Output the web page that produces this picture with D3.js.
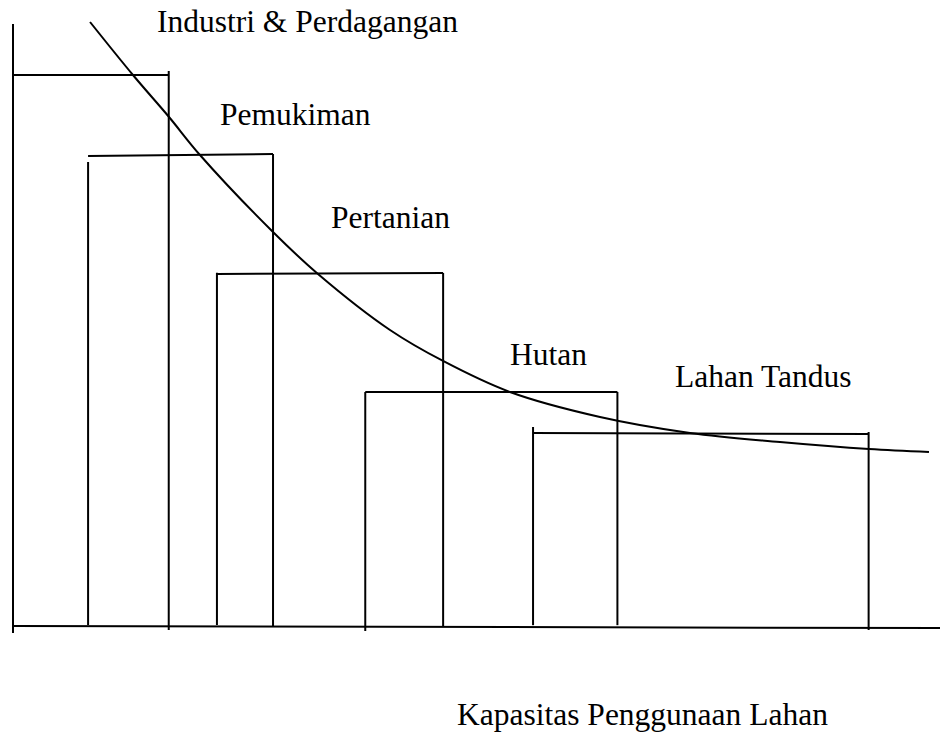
<!DOCTYPE html>
<html>
<head>
<meta charset="utf-8">
<script src="https://cdn.jsdelivr.net/npm/d3@7"></script>
<style>
  html, body { margin: 0; padding: 0; background: #fff; }
  svg text { font-family: "Liberation Serif", "Times New Roman", serif; fill: #000; }
</style>
</head>
<body>
<svg id="chart" width="942" height="732"></svg>
<script>
// land uses, ordered from highest to lowest land rent
const landUses = ['Industri & Perdagangan', 'Pemukiman', 'Pertanian', 'Hutan', 'Lahan Tandus'];
// horizontal extent of each block (distance from centre, 0..100)
const blockStart = [0, 8.1, 22.0, 38.0, 56.1];
const blockEnd = [16.8, 28.05, 46.4, 65.2, 92.3];
// rent level at the left / right end of each block's top edge (0..100)
const rentLeft = [91.24, 77.85, 58.35, 38.84, 32.07];
const rentRight = [91.24, 78.18, 58.51, 38.84, 31.9];
// where the hand drawn sides start and stop
const sideTopL = [91.24, 76.86, 58.56, 38.84, 33.06];
const sideTopR = [91.9, 78.18, 58.51, 38.84, 32.23];
const sideBottomL = [0, 0.33, 0.33, -0.66, 0.3];
const sideBottomR = [-0.5, 0.17, 0, 0.3, -0.5];

// bid rent curve
const curveX = [8.31, 12.94, 16.83, 20.17, 28.05, 32.9, 40.67, 46.39, 53.61, 63.32, 73.03, 82.74, 92.34, 98.81];
const curveY = [100, 91.24, 84.3, 78.02, 65.29, 58.35, 49.09, 43.97, 38.84, 34.71, 32.07, 30.58, 29.42, 28.93];

const xTitle = 'Kapasitas Penggunaan Lahan';

const svg = d3.select('#chart');
const x = d3.scaleLinear().domain([0, 100]).range([13, 940]);
const y = d3.scaleLinear().domain([0, 100]).range([627, 22]);

const stroke = '#000';
const sw = 2;

// label anchor points, in chart units
const labelPos = [[15.53, 98.35], [22.33, 82.98], [34.3, 65.95], [53.61, 43.31], [71.41, 39.67]];

// axes
svg.append('line')
  .attr('x1', x(0)).attr('x2', x(0))
  .attr('y1', y(99.67)).attr('y2', y(-1))
  .attr('stroke', stroke).attr('stroke-width', sw);
svg.append('line')
  .attr('x1', x(0)).attr('x2', x(100))
  .attr('y1', y(0.17)).attr('y2', y(-0.17))
  .attr('stroke', stroke).attr('stroke-width', sw);

// open blocks
const blocks = svg.append('g').attr('class', 'blocks')
  .attr('stroke', stroke).attr('stroke-width', sw).attr('fill', 'none');

landUses.forEach((name, i) => {
  const g = blocks.append('g').attr('class', 'block');
  g.append('line')
    .attr('x1', x(blockStart[i])).attr('x2', x(blockEnd[i]))
    .attr('y1', y(rentLeft[i])).attr('y2', y(rentRight[i]));
  if (i > 0) {
    g.append('line')
      .attr('x1', x(blockStart[i])).attr('x2', x(blockStart[i]))
      .attr('y1', y(sideTopL[i])).attr('y2', y(sideBottomL[i]));
  }
  g.append('line')
    .attr('x1', x(blockEnd[i])).attr('x2', x(blockEnd[i]))
    .attr('y1', y(sideTopR[i])).attr('y2', y(sideBottomR[i]));
});

// curve
const pts = curveX.map((v, i) => [v, curveY[i]]);
svg.append('path')
  .datum(pts)
  .attr('fill', 'none')
  .attr('stroke', stroke)
  .attr('stroke-width', sw)
  .attr('d', d3.line()
    .x(d => x(d[0]))
    .y(d => y(d[1]))
    .curve(d3.curveCatmullRom.alpha(0.5)));

// labels
svg.append('g').selectAll('text')
  .data(landUses)
  .join('text')
  .attr('x', (d, i) => x(labelPos[i][0]))
  .attr('y', (d, i) => y(labelPos[i][1]))
  .attr('font-size', 31.5)
  .text(d => d);

svg.append('text')
  .attr('x', x(47.9))
  .attr('y', y(-16.2))
  .attr('font-size', 31.5)
  .text(xTitle);
</script>
</body>
</html>
